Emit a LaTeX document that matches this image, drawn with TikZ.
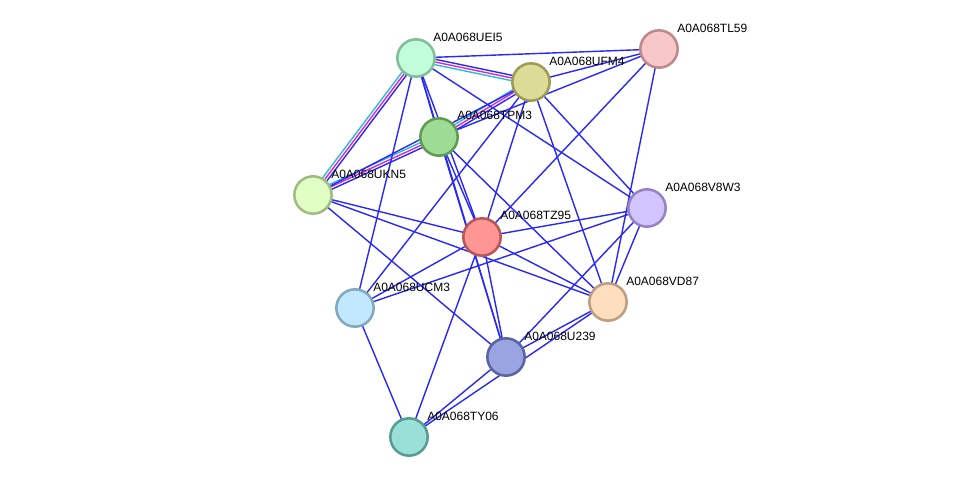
\documentclass[tikz,border=0pt]{standalone}
\usepackage{fontspec}
\setmainfont{Liberation Sans}
\usetikzlibrary{calc}
\pgfdeclarelayer{bg}
\pgfdeclarelayer{edges}
\pgfsetlayers{bg,edges,main}
\definecolor{eblue}{RGB}{40,40,250}
\definecolor{ecyan}{RGB}{40,190,215}
\definecolor{emag}{RGB}{215,40,215}
\definecolor{fUEI5}{RGB}{193,253,217}\definecolor{dUEI5}{RGB}{130,190,154}
\definecolor{fUFM4}{RGB}{220,220,150}\definecolor{dUFM4}{RGB}{156,156,85}
\definecolor{fTL59}{RGB}{248,200,200}\definecolor{dTL59}{RGB}{188,138,138}
\definecolor{fTPM3}{RGB}{158,220,148}\definecolor{dTPM3}{RGB}{94,156,84}
\definecolor{fUKN5}{RGB}{224,255,196}\definecolor{dUKN5}{RGB}{160,188,128}
\definecolor{fTZ95}{RGB}{255,150,150}\definecolor{dTZ95}{RGB}{187,86,86}
\definecolor{fV8W3}{RGB}{210,196,255}\definecolor{dV8W3}{RGB}{148,132,192}
\definecolor{fUCM3}{RGB}{194,232,255}\definecolor{dUCM3}{RGB}{128,168,192}
\definecolor{fVD87}{RGB}{255,222,192}\definecolor{dVD87}{RGB}{188,158,128}
\definecolor{fU239}{RGB}{154,164,224}\definecolor{dU239}{RGB}{90,100,160}
\definecolor{fTY06}{RGB}{152,224,216}\definecolor{dTY06}{RGB}{88,156,148}
\tikzset{
  prot/.style={circle, minimum size=28pt, inner sep=0pt, line width=1.9pt},
  lbl/.style={anchor=west, inner sep=0pt, font=\fontsize{9}{10}\selectfont},
  ed/.style={line width=1.05pt, draw=eblue},
}
\newcommand{\paredge}[4]{\draw[ed, draw=#3] ($(#1.center)!#4!90:(#2.center)$) -- ($(#2.center)!#4!-90:(#1.center)$);}
\newcommand{\bundle}[2]{%
  \paredge{#1}{#2}{eblue}{2pt}%
  \paredge{#1}{#2}{emag}{0pt}%
  \paredge{#1}{#2}{ecyan}{-2pt}}
\begin{document}
\begin{tikzpicture}[x=0.75pt,y=-0.75pt]
\begin{pgfonlayer}{bg}
\fill[white] (0,0) rectangle (976,483);
\end{pgfonlayer}
\useasboundingbox (0,0) rectangle (976,483);
% nodes
\node[prot, fill=fUEI5, draw=dUEI5] (UEI5) at (416,58) {};
\node[prot, fill=fUFM4, draw=dUFM4] (UFM4) at (531,82) {};
\node[prot, fill=fTL59, draw=dTL59] (TL59) at (659,49) {};
\node[prot, fill=fTPM3, draw=dTPM3] (TPM3) at (439,137) {};
\node[prot, fill=fUKN5, draw=dUKN5] (UKN5) at (313,195) {};
\node[prot, fill=fTZ95, draw=dTZ95] (TZ95) at (482,237) {};
\node[prot, fill=fV8W3, draw=dV8W3] (V8W3) at (647,208) {};
\node[prot, fill=fUCM3, draw=dUCM3] (UCM3) at (355,308) {};
\node[prot, fill=fVD87, draw=dVD87] (VD87) at (608,302) {};
\node[prot, fill=fU239, draw=dU239] (U239) at (506,357) {};
\node[prot, fill=fTY06, draw=dTY06] (TY06) at (409,437) {};
% labels
\node[lbl] (lUEI5) at (433,37) {A0A068UEI5};
\node[lbl] (lUFM4) at (549,61) {A0A068UFM4};
\node[lbl] (lTL59) at (677,28) {A0A068TL59};
\node[lbl] (lTPM3) at (457,115) {A0A068TPM3};
\node[lbl] (lUKN5) at (331,174) {A0A068UKN5};
\node[lbl] (lTZ95) at (500,215) {A0A068TZ95};
\node[lbl] (lV8W3) at (665,187) {A0A068V8W3};
\node[lbl] (lUCM3) at (373,287) {A0A068UCM3};
\node[lbl] (lVD87) at (626,281) {A0A068VD87};
\node[lbl] (lU239) at (524,336) {A0A068U239};
\node[lbl] (lTY06) at (427,416) {A0A068TY06};
% edges
\begin{pgfonlayer}{edges}
\bundle{UEI5}{UFM4}
\bundle{UEI5}{UKN5}
\bundle{TPM3}{UKN5}
\bundle{UFM4}{TPM3}
\foreach \a/\b in {UEI5/TL59, UEI5/TPM3, UEI5/TZ95, UEI5/U239, UEI5/UCM3, UEI5/V8W3,
  UFM4/TL59, UFM4/UKN5, UFM4/TZ95, UFM4/UCM3, UFM4/V8W3, UFM4/VD87,
  TL59/TPM3, TL59/TZ95, TL59/VD87,
  TPM3/TZ95, TPM3/U239, TPM3/VD87,
  UKN5/TZ95, UKN5/VD87, UKN5/U239,
  TZ95/V8W3, TZ95/VD87, TZ95/UCM3, TZ95/U239, TZ95/TY06,
  V8W3/UCM3, V8W3/VD87, V8W3/U239,
  UCM3/TY06, VD87/U239, VD87/TY06, U239/TY06}
  {\draw[ed] (\a.center) -- (\b.center);}
\end{pgfonlayer}
\end{tikzpicture}
\end{document}
